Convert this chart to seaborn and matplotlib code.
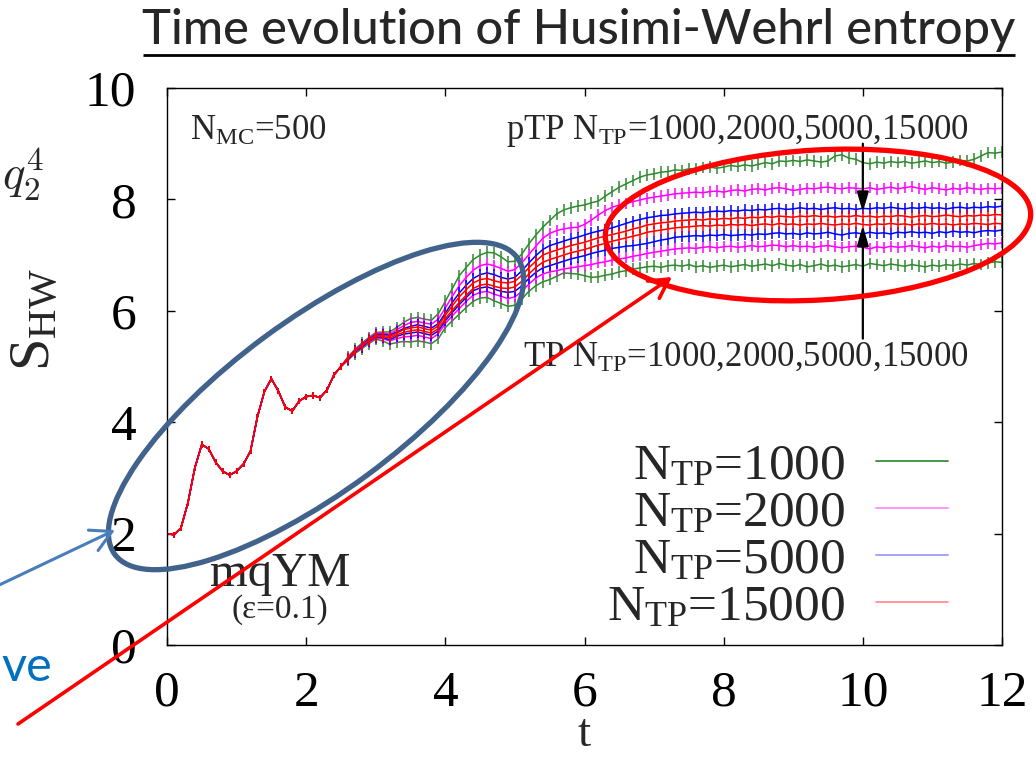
import numpy as np
import pandas as pd
import seaborn as sns
import matplotlib
matplotlib.use("Agg")
import matplotlib.pyplot as plt
from matplotlib.patches import Ellipse
from matplotlib.lines import Line2D

# ---------------------------------------------------------------------------
# Husimi-Wehrl entropy S_HW(t) for the mqYM model (eps = 0.1), N_MC = 500.
# Sampling step 0.1 in t.  Up to t = 2.5 all runs coincide; afterwards every
# N_TP has a pTP branch (upper) and a TP branch (lower).
# ---------------------------------------------------------------------------
t_early = np.round(np.arange(0.0, 2.51, 0.1), 1)
t_late = np.round(np.arange(2.6, 12.01, 0.1), 1)

s_early = [2.00, 1.98, 2.10, 2.55, 3.18, 3.60, 3.52, 3.28, 3.12, 3.05,
           3.12, 3.25, 3.48, 4.10, 4.55, 4.78, 4.56, 4.27, 4.20, 4.38,
           4.46, 4.48, 4.44, 4.58, 4.85, 5.00]

ptp_1000 = [5.17, 5.31, 5.42, 5.52, 5.61, 5.62, 5.62, 5.70, 5.79, 5.86,
            5.88, 5.85, 5.83, 5.95, 6.17, 6.40, 6.63, 6.78, 6.92, 7.00,
            7.05, 7.04, 6.97, 6.88, 6.89, 7.02, 7.20, 7.36, 7.50, 7.62,
            7.74, 7.81, 7.85, 7.88, 7.90, 7.94, 7.97, 8.06, 8.14, 8.22,
            8.28, 8.34, 8.40, 8.44, 8.46, 8.49, 8.50, 8.53, 8.52, 8.55,
            8.54, 8.57, 8.58, 8.56, 8.58, 8.61, 8.59, 8.62, 8.60, 8.63,
            8.66, 8.64, 8.69, 8.68, 8.70, 8.68, 8.71, 8.69, 8.67, 8.69,
            8.78, 8.80, 8.74, 8.72, 8.66, 8.64, 8.67, 8.65, 8.68, 8.66,
            8.68, 8.65, 8.67, 8.69, 8.66, 8.68, 8.65, 8.67, 8.70, 8.69,
            8.72, 8.78, 8.84, 8.83, 8.85]
tp_1000 = [5.11, 5.23, 5.32, 5.41, 5.49, 5.46, 5.40, 5.43, 5.45, 5.44,
           5.46, 5.44, 5.41, 5.50, 5.70, 5.82, 5.94, 6.06, 6.17, 6.23,
           6.24, 6.18, 6.13, 6.08, 6.10, 6.21, 6.35, 6.45, 6.52, 6.56,
           6.62, 6.68, 6.67, 6.66, 6.63, 6.60, 6.61, 6.64, 6.66, 6.70,
           6.72, 6.75, 6.77, 6.79, 6.80, 6.78, 6.81, 6.82, 6.80, 6.83,
           6.79, 6.81, 6.78, 6.80, 6.82, 6.79, 6.81, 6.83, 6.80, 6.82,
           6.84, 6.81, 6.85, 6.82, 6.80, 6.83, 6.79, 6.81, 6.84, 6.80,
           6.82, 6.79, 6.81, 6.83, 6.80, 6.85, 6.83, 6.81, 6.84, 6.82,
           6.80, 6.83, 6.81, 6.79, 6.82, 6.80, 6.83, 6.81, 6.84, 6.82,
           6.85, 6.83, 6.86, 6.88, 6.87]

ptp_2000 = [5.16, 5.29, 5.40, 5.50, 5.59, 5.60, 5.58, 5.66, 5.73, 5.79,
            5.81, 5.78, 5.76, 5.85, 6.05, 6.26, 6.45, 6.60, 6.73, 6.81,
            6.84, 6.81, 6.76, 6.71, 6.74, 6.86, 7.01, 7.16, 7.30, 7.39,
            7.44, 7.47, 7.49, 7.50, 7.55, 7.63, 7.72, 7.80, 7.86, 7.90,
            7.93, 7.96, 7.99, 8.02, 8.04, 8.06, 8.08, 8.10, 8.11, 8.12,
            8.13, 8.12, 8.14, 8.15, 8.13, 8.16, 8.17, 8.15, 8.18, 8.19,
            8.17, 8.20, 8.21, 8.19, 8.16, 8.18, 8.20, 8.19, 8.21, 8.22,
            8.20, 8.19, 8.21, 8.20, 8.19, 8.21, 8.18, 8.20, 8.22, 8.19,
            8.21, 8.23, 8.20, 8.18, 8.21, 8.19, 8.17, 8.20, 8.18, 8.21,
            8.19, 8.18, 8.20, 8.19, 8.20]
tp_2000 = [5.12, 5.25, 5.34, 5.44, 5.51, 5.50, 5.46, 5.50, 5.53, 5.54,
           5.56, 5.53, 5.50, 5.59, 5.77, 5.91, 6.04, 6.17, 6.28, 6.33,
           6.35, 6.30, 6.26, 6.22, 6.25, 6.35, 6.48, 6.59, 6.66, 6.70,
           6.72, 6.75, 6.77, 6.79, 6.81, 6.83, 6.86, 6.88, 6.91, 6.93,
           6.95, 6.98, 7.00, 7.03, 7.05, 7.07, 7.09, 7.11, 7.12, 7.13,
           7.12, 7.14, 7.15, 7.13, 7.15, 7.16, 7.14, 7.15, 7.17, 7.15,
           7.16, 7.18, 7.17, 7.15, 7.17, 7.15, 7.16, 7.14, 7.16, 7.17,
           7.15, 7.13, 7.15, 7.16, 7.14, 7.11, 7.15, 7.13, 7.16, 7.14,
           7.15, 7.17, 7.15, 7.13, 7.16, 7.14, 7.17, 7.15, 7.16, 7.14,
           7.17, 7.19, 7.21, 7.20, 7.22]

ptp_5000 = [5.15, 5.28, 5.39, 5.49, 5.57, 5.58, 5.56, 5.62, 5.68, 5.72,
            5.75, 5.72, 5.69, 5.77, 5.96, 6.15, 6.32, 6.46, 6.58, 6.65,
            6.68, 6.65, 6.60, 6.57, 6.60, 6.72, 6.86, 6.99, 7.10, 7.17,
            7.21, 7.25, 7.29, 7.32, 7.36, 7.40, 7.43, 7.46, 7.49, 7.53,
            7.57, 7.61, 7.64, 7.67, 7.69, 7.71, 7.72, 7.74, 7.75, 7.76,
            7.77, 7.76, 7.78, 7.79, 7.78, 7.80, 7.79, 7.81, 7.80, 7.82,
            7.81, 7.83, 7.84, 7.82, 7.83, 7.85, 7.83, 7.84, 7.82, 7.84,
            7.85, 7.83, 7.84, 7.82, 7.84, 7.83, 7.85, 7.84, 7.86, 7.84,
            7.83, 7.85, 7.84, 7.86, 7.84, 7.85, 7.83, 7.85, 7.86, 7.84,
            7.86, 7.85, 7.87, 7.86, 7.88]
tp_5000 = [5.13, 5.26, 5.35, 5.45, 5.53, 5.52, 5.48, 5.54, 5.58, 5.60,
           5.62, 5.59, 5.56, 5.64, 5.82, 5.97, 6.11, 6.24, 6.36, 6.41,
           6.43, 6.39, 6.35, 6.33, 6.35, 6.45, 6.58, 6.69, 6.77, 6.81,
           6.85, 6.89, 6.93, 6.96, 6.99, 7.03, 7.06, 7.09, 7.12, 7.14,
           7.16, 7.17, 7.19, 7.21, 7.24, 7.27, 7.29, 7.32, 7.33, 7.34,
           7.35, 7.34, 7.36, 7.35, 7.37, 7.35, 7.36, 7.37, 7.36, 7.38,
           7.37, 7.39, 7.40, 7.38, 7.39, 7.37, 7.40, 7.38, 7.39, 7.41,
           7.38, 7.36, 7.39, 7.40, 7.38, 7.41, 7.39, 7.40, 7.38, 7.41,
           7.40, 7.42, 7.40, 7.41, 7.39, 7.42, 7.40, 7.43, 7.41, 7.42,
           7.40, 7.43, 7.44, 7.43, 7.45]

ptp_15000 = [5.15, 5.28, 5.38, 5.48, 5.56, 5.56, 5.54, 5.60, 5.66, 5.69,
             5.71, 5.68, 5.65, 5.73, 5.92, 6.09, 6.25, 6.38, 6.50, 6.56,
             6.58, 6.54, 6.51, 6.50, 6.53, 6.64, 6.77, 6.89, 7.00, 7.05,
             7.09, 7.13, 7.17, 7.20, 7.23, 7.27, 7.31, 7.34, 7.37, 7.40,
             7.43, 7.47, 7.50, 7.54, 7.56, 7.58, 7.59, 7.61, 7.62, 7.63,
             7.64, 7.63, 7.65, 7.64, 7.66, 7.65, 7.67, 7.66, 7.68, 7.67,
             7.69, 7.68, 7.70, 7.69, 7.68, 7.70, 7.69, 7.71, 7.69, 7.70,
             7.68, 7.70, 7.69, 7.71, 7.69, 7.70, 7.68, 7.70, 7.69, 7.71,
             7.70, 7.68, 7.70, 7.71, 7.69, 7.70, 7.72, 7.70, 7.69, 7.71,
             7.70, 7.72, 7.71, 7.73, 7.72]
tp_15000 = [5.14, 5.27, 5.37, 5.46, 5.54, 5.54, 5.51, 5.57, 5.61, 5.64,
            5.66, 5.63, 5.60, 5.68, 5.86, 6.01, 6.15, 6.28, 6.40, 6.46,
            6.48, 6.44, 6.41, 6.40, 6.43, 6.53, 6.66, 6.78, 6.87, 6.92,
            6.96, 7.00, 7.04, 7.07, 7.10, 7.14, 7.18, 7.21, 7.25, 7.28,
            7.31, 7.34, 7.37, 7.41, 7.43, 7.45, 7.47, 7.49, 7.50, 7.51,
            7.52, 7.53, 7.52, 7.54, 7.53, 7.55, 7.54, 7.55, 7.53, 7.55,
            7.56, 7.54, 7.57, 7.55, 7.56, 7.54, 7.56, 7.55, 7.57, 7.55,
            7.54, 7.56, 7.55, 7.57, 7.55, 7.54, 7.56, 7.55, 7.57, 7.55,
            7.56, 7.54, 7.56, 7.55, 7.57, 7.55, 7.56, 7.54, 7.56, 7.55,
            7.57, 7.56, 7.55, 7.57, 7.56]

ntp_values = [1000, 2000, 5000, 15000]
ptp_runs = [ptp_1000, ptp_2000, ptp_5000, ptp_15000]
tp_runs = [tp_1000, tp_2000, tp_5000, tp_15000]
err_early = 0.055                        # error bar half-height for t <= 2.5
err_late_by_ntp = [0.105, 0.1, 0.1, 0.095]

line_colors = ["#2f8a2f", "#ff00ff", "#0000ff", "#ff0000"]
legend_colors = ["#3c8f3c", "#ff8cff", "#9c9cff", "#ff9090"]

# long-form table: one row per (N_TP, branch, t)
t_all = np.concatenate([t_early, t_late])
rows = []
for n, ptp, tp, err in zip(ntp_values, ptp_runs, tp_runs, err_late_by_ntp):
    errs = [err_early] * len(t_early) + [err] * len(t_late)
    for branch, late in (("pTP", ptp), ("TP", tp)):
        for tt, s, e in zip(t_all, s_early + late, errs):
            rows.append({"t": tt, "S": s, "N_TP": n, "branch": branch, "err": e})
df = pd.DataFrame(rows)

# ---------------------------------------------------------------------------
sns.set_style("ticks")
plt.rcParams["font.family"] = ["Liberation Serif", "DejaVu Serif"]
plt.rcParams["mathtext.fontset"] = "custom"
plt.rcParams["mathtext.rm"] = "Liberation Serif"
plt.rcParams["mathtext.it"] = "Liberation Serif:italic"

W, H = 1036, 760
fig = plt.figure(figsize=(W / 100, H / 100), dpi=100)
fig.patch.set_facecolor("white")
ax = fig.add_axes([167 / W, 1 - 645 / H, 835 / W, 557 / H])

for n, col in zip(ntp_values, line_colors):
    for branch in ("pTP", "TP"):
        sub = df[(df["N_TP"] == n) & (df["branch"] == branch)]
        ax.errorbar(sub["t"], sub["S"], yerr=sub["err"], fmt="none",
                    ecolor=col, elinewidth=1.1, capsize=0)
        sns.lineplot(data=sub, x="t", y="S", color=col, lw=1.1,
                     estimator=None, sort=False, legend=False, ax=ax)

ax.set_xlim(0, 12)
ax.set_ylim(0, 10)
ax.set_xticks(range(0, 13, 2))
ax.set_yticks(range(0, 11, 2))
ax.tick_params(direction="in", length=6, width=1, top=True, right=True,
               labelsize=37, colors="black")
ax.tick_params(axis="y", pad=22)
ax.tick_params(axis="x", pad=18)
for sp in ax.spines.values():
    sp.set_color("black")
    sp.set_linewidth(1.0)
    sp.set_visible(True)

ax.set_xlabel("t", fontsize=34, labelpad=-2)
ax.set_ylabel(r"$\mathregular{S_{HW}}$", fontsize=42)
ax.yaxis.set_label_coords(-0.125, 0.585)

# in-plot annotations
ax.text(0.33, 9.22, r"$\mathregular{N_{MC}}$=500", fontsize=25,
        ha="left", va="center")
ax.text(11.52, 9.22, r"pTP $\mathregular{N_{TP}}$=1000,2000,5000,15000",
        fontsize=25, ha="right", va="center")
ax.text(11.52, 5.17, r"TP $\mathregular{N_{TP}}$=1000,2000,5000,15000",
        fontsize=25, ha="right", va="center")
ax.text(1.62, 1.28, "mqYM", fontsize=35, ha="center", va="center")
ax.text(1.62, 0.63, "(\u03b5=0.1)", fontsize=24, ha="center", va="center")
ax.annotate("", xy=(10, 7.77), xytext=(10, 9.0),
            arrowprops=dict(arrowstyle="-|>,head_length=0.55,head_width=0.16",
                            color="black", lw=1.6, mutation_scale=22,
                            shrinkA=0, shrinkB=0))
ax.annotate("", xy=(10, 7.53), xytext=(10, 5.5),
            arrowprops=dict(arrowstyle="-|>,head_length=0.55,head_width=0.16",
                            color="black", lw=1.6, mutation_scale=22,
                            shrinkA=0, shrinkB=0))

handles = [Line2D([], [], color=c, lw=1.3) for c in legend_colors]
labels = [r"$\mathregular{N_{TP}}$=%d" % n for n in ntp_values]
ax.legend(handles, labels, loc="lower right", bbox_to_anchor=(0.935, 0.025),
          markerfirst=False, frameon=False, fontsize=37, handlelength=1.4,
          handletextpad=0.6, labelspacing=0.0, borderpad=0.0,
          borderaxespad=0.0)

# ---------------------------------------------------------------------------
# slide overlay drawn in pixel coordinates
ov = fig.add_axes([0, 0, 1, 1], zorder=10)
ov.set_xlim(0, W)
ov.set_ylim(H, 0)
ov.axis("off")
ov.patch.set_alpha(0)

ov.add_patch(Ellipse((316, 406), 2 * 250, 2 * 86, angle=-36.4, fill=False,
                     edgecolor="#41628b", lw=3.8))
ov.add_patch(Ellipse((818, 225), 2 * 213, 2 * 75, angle=-3.3, fill=False,
                     edgecolor="#ff0000", lw=3.8))
ov.annotate("", xy=(672, 277), xytext=(18, 724),
            arrowprops=dict(arrowstyle="->,head_length=0.45,head_width=0.25",
                            color="#ff0000", lw=2.6, mutation_scale=30,
                            shrinkA=0, shrinkB=0))
ov.annotate("", xy=(115, 530), xytext=(-5, 587),
            arrowprops=dict(arrowstyle="->,head_length=0.5,head_width=0.27",
                            color="#4a7ebb", lw=2.2, mutation_scale=30,
                            shrinkA=0, shrinkB=0))
ov.text(1, 667, "ve", color="#0070c0", family="Lato", fontsize=35,
        ha="left", va="center")
ov.text(2, 175, r"$q_2^4$", math_fontfamily="cm", fontsize=34,
        ha="left", va="center")

title = ov.text(579, 30, "Time evolution of Husimi-Wehrl entropy",
                family="Lato", fontweight="medium", fontsize=32,
                ha="center", va="center")
fig.canvas.draw()
tw = title.get_window_extent().width
title.set_fontsize(32 * 872 / tw)
ov.plot([143, 1015], [55, 55], color="black", lw=2.0, solid_capstyle="butt")

fig.savefig("out.png", dpi=100, facecolor="white")
